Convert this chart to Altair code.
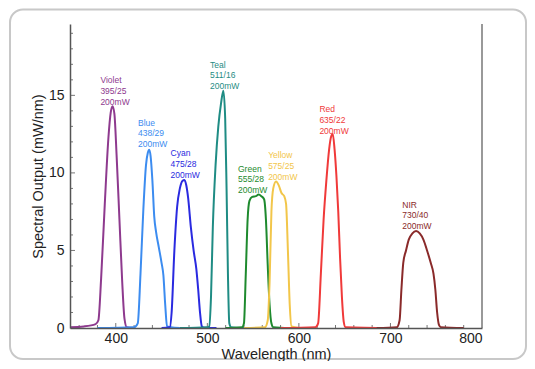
import altair as alt
import pandas as pd

# ---------------- data ----------------
series_names = ["Violet", "Blue", "Cyan", "Teal", "Green", "Yellow", "Red", "NIR"]
series_colors = ["#8E3A8E", "#3C8CF0", "#2A2AE0", "#1F8C84", "#1E8A2E", "#F2C64A", "#F03A3A", "#8A2A2A"]

violet_x = [350, 365, 378, 381, 384, 388, 392, 394.5, 396.5, 398.5, 401, 404, 407, 409.5, 412, 420]
violet_y = [0.05, 0.1, 0.25, 0.5, 3.2, 8.0, 12.3, 13.9, 14.3, 13.8, 11.0, 7.0, 3.0, 0.6, 0.05, 0.0]

blue_x = [380, 420, 424, 427, 430, 433, 435, 436.5, 438, 440, 442, 444, 447, 450, 452, 454, 456, 460, 470]
blue_y = [0.0, 0.05, 0.3, 3.5, 7.5, 10.5, 11.3, 11.5, 11.1, 9.5, 7.2, 6.2, 5.2, 4.2, 3.4, 1.5, 0.1, 0.05, 0.0]

cyan_x = [450, 459, 461, 464, 467, 470, 473, 475, 477, 479, 482, 485, 488, 490, 492, 494, 496, 510]
cyan_y = [0.0, 0.05, 1.0, 5.0, 7.8, 9.0, 9.5, 9.55, 9.2, 8.4, 6.5, 5.0, 3.8, 2.5, 1.0, 0.1, 0.02, 0.0]

teal_x = [470, 500, 502, 504, 506, 509, 512, 515, 517.5, 519.5, 521, 522.5, 524, 526, 540]
teal_y = [0.0, 0.05, 0.1, 2.0, 6.5, 10.5, 13.0, 14.5, 15.3, 13.5, 9.0, 3.5, 0.3, 0.05, 0.0]

green_x = [520, 538, 540, 542, 544, 546, 549, 553, 556, 559, 562, 564, 566, 568, 570, 572, 590]
green_y = [0.0, 0.05, 0.3, 3.5, 7.0, 8.2, 8.45, 8.5, 8.6, 8.5, 8.3, 7.0, 4.0, 1.5, 0.3, 0.05, 0.0]

yellow_x = [540, 563, 566, 568, 570, 572, 575, 578, 581, 584, 586, 588, 590, 592, 600]
yellow_y = [0.0, 0.05, 0.5, 3.0, 7.5, 9.0, 9.45, 9.2, 8.7, 8.5, 8.0, 5.0, 1.5, 0.1, 0.0]

red_x = [580, 618, 621, 624, 627, 630, 633, 635, 637, 639, 641, 643, 645, 647, 649, 651, 700]
red_y = [0.0, 0.05, 0.3, 3.5, 7.0, 9.5, 11.5, 12.3, 12.5, 11.5, 9.8, 7.5, 4.5, 2.0, 0.4, 0.05, 0.0]

nir_x = [685, 707, 710, 712, 714, 717, 720, 724, 728, 732, 736, 740, 744, 747, 749, 751, 753, 755, 780]
nir_y = [0.0, 0.05, 0.5, 2.5, 4.2, 5.0, 5.7, 6.1, 6.25, 6.1, 5.7, 5.0, 4.2, 3.5, 2.5, 1.0, 0.2, 0.05, 0.0]

label_texts = [
    "Violet\n395/25\n200mW", "Blue\n438/29\n200mW", "Cyan\n475/28\n200mW", "Teal\n511/16\n200mW",
    "Green\n555/28\n200mW", "Yellow\n575/25\n200mW", "Red\n635/22\n200mW", "NIR\n730/40\n200mW",
]
label_x = [383.2, 424.3, 459.8, 502.9, 533.5, 566.4, 622.4, 712.9]
label_y = [15.99, 13.24, 11.26, 16.98, 10.28, 11.15, 14.12, 7.96]

x_ticks = [400, 500, 600, 700, 800]
y_ticks = [0, 5, 10, 15]
x_minor = [360, 380, 420, 440, 460, 480, 520, 540, 560, 580, 620, 640, 660, 680, 720, 740, 760, 780]
x_major_in = [400, 500, 600, 700]
y_minor = [1, 2, 3, 4, 6, 7, 8, 9, 11, 12, 13, 14, 16, 17, 18, 19]
y_major_in = [5, 10, 15]

# ---------------- build table ----------------
xs = [violet_x, blue_x, cyan_x, teal_x, green_x, yellow_x, red_x, nir_x]
ys = [violet_y, blue_y, cyan_y, teal_y, green_y, yellow_y, red_y, nir_y]
rows = []
for i, (name, xv, yv) in enumerate(zip(series_names, xs, ys)):
    for j, (a, b) in enumerate(zip(xv, yv)):
        rows.append({"series": name, "order": i, "wl": a, "val": b, "idx": j})
df = pd.DataFrame(rows)

lab = pd.DataFrame({"series": series_names, "text": label_texts, "wl": label_x, "val": label_y})

W, H = 412, 304
Y_TOP = 19.6
PT, PB = 16, 33

xscale = alt.Scale(domain=[350, 800], nice=False, zero=False)
yscale = alt.Scale(domain=[0, Y_TOP], nice=False, zero=True)
cscale = alt.Scale(domain=series_names, range=series_colors)

FONT = "Liberation Sans"

frame = alt.Chart(pd.DataFrame({"k": [0]})).mark_rect(
    fillOpacity=0, stroke="#c8c8c8", strokeWidth=2, cornerRadius=13
).encode(
    x=alt.value(-60), x2=alt.value(456), y=alt.value(-(PT - 1.5)), y2=alt.value(H + PB - 2)
)

axis_common = dict(grid=False, ticks=False, domainColor="#555", domainWidth=1.5,
                   labelFontSize=14, labelColor="#222", labelFont=FONT,
                   titleFont=FONT, titleFontWeight="normal", titleColor="#222", zindex=1)

lines = alt.Chart(df).mark_line(strokeWidth=2, interpolate="monotone").encode(
    x=alt.X("wl:Q", scale=xscale,
            axis=alt.Axis(values=x_ticks, title="Wavelength (nm)", labelPadding=3,
                          titleFontSize=14.5, titlePadding=2, **axis_common)),
    y=alt.Y("val:Q", scale=yscale,
            axis=alt.Axis(values=y_ticks, title="Spectral Output (mW/nm)", labelPadding=6,
                          titleFontSize=14.5, titlePadding=3, **axis_common)),
    color=alt.Color("series:N", scale=cscale, legend=None),
    detail="series:N",
    order="idx:Q",
)

labels = alt.Chart(lab).mark_text(
    align="left", baseline="middle", fontSize=8.5, font=FONT, lineBreak="\n", lineHeight=10.8
).encode(
    x=alt.X("wl:Q", scale=xscale),
    y=alt.Y("val:Q", scale=yscale),
    text="text:N",
    color=alt.Color("series:N", scale=cscale, legend=None),
)

right_rule = alt.Chart(pd.DataFrame({"k": [0]})).mark_rule(color="#777", strokeWidth=1.5).encode(
    x=alt.datum(800), y=alt.datum(0), y2=alt.datum(Y_TOP)
)

ytm = alt.Chart(pd.DataFrame({"v": y_minor})).mark_rule(color="#777", strokeWidth=1).encode(
    y=alt.Y("v:Q", scale=yscale), x=alt.value(0), x2=alt.value(3)
)
ytM = alt.Chart(pd.DataFrame({"v": y_major_in})).mark_rule(color="#777", strokeWidth=1).encode(
    y=alt.Y("v:Q", scale=yscale), x=alt.value(0), x2=alt.value(5)
)
xtm = alt.Chart(pd.DataFrame({"v": x_minor})).mark_rule(color="#777", strokeWidth=1).encode(
    x=alt.X("v:Q", scale=xscale), y=alt.value(H), y2=alt.value(H - 3)
)
xtM = alt.Chart(pd.DataFrame({"v": x_major_in})).mark_rule(color="#777", strokeWidth=1).encode(
    x=alt.X("v:Q", scale=xscale), y=alt.value(H), y2=alt.value(H - 5)
)

chart = alt.layer(frame, ytm, ytM, xtm, xtM, lines, labels, right_rule).properties(
    width=W, height=H,
    autosize=alt.AutoSizeParams(type="none"),
    padding={"left": 62, "top": PT, "right": 45, "bottom": PB},
    background="white",
).configure_view(stroke=None)

chart.save("out.html", embed_options={"renderer": "svg", "actions": False})
